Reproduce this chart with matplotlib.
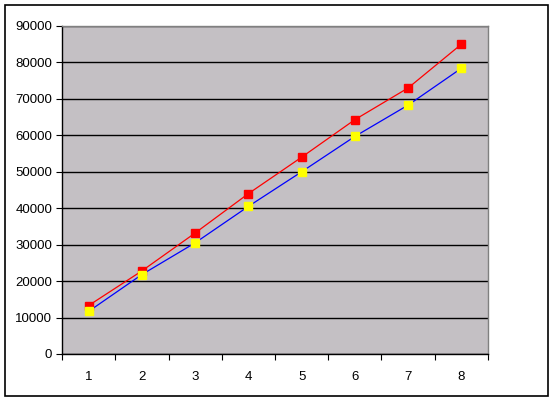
import matplotlib
matplotlib.use("Agg")
import matplotlib.pyplot as plt
from matplotlib.patches import Rectangle
import numpy as np

categories = ["1", "2", "3", "4", "5", "6", "7", "8"]
series_red = [13300, 22800, 33200, 44000, 54000, 64300, 73000, 85000]
series_yellow = [11700, 21800, 30500, 40500, 50000, 59700, 68300, 78400]
y_ticks = [0, 10000, 20000, 30000, 40000, 50000, 60000, 70000, 80000, 90000]

plt.rcParams['font.family'] = ['Liberation Sans', 'DejaVu Sans']
fig = plt.figure(figsize=(5.52, 4.0), dpi=100)
fig.patch.set_facecolor('white')
fig.patches.append(Rectangle((5/552, 4/400), 543/552, 391/400, transform=fig.transFigure,
                             fill=False, edgecolor='black', linewidth=1.2))

ax = fig.add_axes([62/552, 46/400, 426/552, 328/400])
ax.set_facecolor('#c4c0c4')
x = np.arange(len(categories))
ax.plot(x, series_red, color='#ff0000', linewidth=0.9, marker='s', markersize=6,
        markerfacecolor='#ff0000', markeredgecolor='#ff0000', zorder=3)
ax.plot(x, series_yellow, color='#0000ff', linewidth=0.9, marker='s', markersize=6,
        markerfacecolor='#ffff00', markeredgecolor='#ffff00', zorder=3)

ax.set_xlim(-0.5, len(categories) - 0.5)
ax.set_ylim(0, 90000)
ax.set_yticks(y_ticks)
ax.set_yticklabels([str(v) for v in y_ticks])
ax.yaxis.grid(True, color='black', linewidth=1)
ax.set_axisbelow(True)

ax.set_xticks(np.arange(len(categories) + 1) - 0.5)
ax.set_xticklabels([])
ax.set_xticks(x, minor=True)
ax.set_xticklabels(categories, minor=True)
ax.tick_params(axis='x', which='minor', length=0, pad=12, labelsize=9.5)
ax.tick_params(axis='x', which='major', length=4, direction='out', color='black')
ax.tick_params(axis='y', length=4, direction='out', labelsize=9.5, pad=3)

for s in ['top', 'right']:
    ax.spines[s].set_color('#808080')
    ax.spines[s].set_linewidth(1)
for s in ['left', 'bottom']:
    ax.spines[s].set_color('black')
    ax.spines[s].set_linewidth(1)

fig.savefig('out.png', dpi=100)
